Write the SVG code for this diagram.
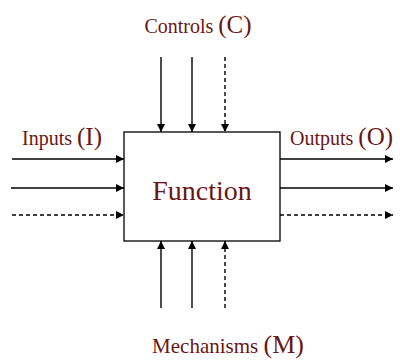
<svg xmlns="http://www.w3.org/2000/svg" width="400" height="363" viewBox="0 0 400 363">
<defs>
<marker id="ah" viewBox="0 0 10 10" refX="10" refY="5" markerWidth="8" markerHeight="8" markerUnits="userSpaceOnUse" orient="auto">
<path d="M0,0 L10,5 L0,10 Z" fill="#000"/>
</marker>
<style>
.t{font-family:"Liberation Serif","Times New Roman",serif;fill:#6a1616;font-size:20px}
.b{font-size:25px}
.c{stroke:#000;stroke-width:1.4;fill:none;marker-end:url(#ah)}
.d{stroke-dasharray:4 3}
</style>
</defs>
<rect width="400" height="363" fill="#fff"/>
<g id="function">
<rect x="124" y="132" width="156" height="109" fill="#fff" stroke="#000" stroke-width="1.3"/>
<text class="t" x="202" y="200" text-anchor="middle" style="font-size:28px">Function</text>
</g>
<g id="controls"><text class="t" x="198" y="33" text-anchor="middle">Controls <tspan class="b">(C)</tspan></text></g>
<g id="inputs"><text class="t" x="22" y="145">Inputs <tspan class="b">(I)</tspan></text></g>
<g id="outputs"><text class="t" x="290" y="145">Outputs <tspan class="b">(O)</tspan></text></g>
<g id="mechanisms"><text class="t" x="228" y="353" text-anchor="middle" style="font-size:21px">Mechanisms <tspan class="b" style="font-size:26px">(M)</tspan></text></g>
<g id="connectors">
<line class="c" x1="161" y1="57" x2="161" y2="132"/>
<line class="c" x1="192" y1="57" x2="192" y2="132"/>
<line class="c d" x1="225" y1="57" x2="225" y2="132"/>
<line class="c" x1="161" y1="308" x2="161" y2="241"/>
<line class="c" x1="192" y1="308" x2="192" y2="241"/>
<line class="c d" x1="225" y1="308" x2="225" y2="241"/>
<line class="c" x1="12" y1="159" x2="124" y2="159"/>
<line class="c" x1="11" y1="188" x2="124" y2="188"/>
<line class="c d" x1="12" y1="215" x2="124" y2="215"/>
<line class="c" x1="280" y1="159" x2="393" y2="159"/>
<line class="c" x1="280" y1="188" x2="393" y2="188"/>
<line class="c d" x1="280" y1="215" x2="393" y2="215"/>
</g>
</svg>
